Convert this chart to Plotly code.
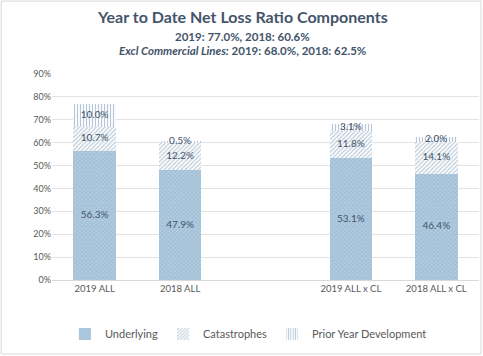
import plotly.graph_objects as go

categories = ["2019 ALL", "2018 ALL", " ", "2019 ALL x CL", "2018 ALL x CL"]
underlying = [56.3, 47.9, None, 53.1, 46.4]
catastrophes = [10.7, 12.2, None, 11.8, 14.1]
prior_year = [10.0, 0.5, None, 3.1, 2.0]
y_ticks = [0, 10, 20, 30, 40, 50, 60, 70, 80, 90]

FONT = "Lato"
LABEL = "#44546A"
GREY = "#595959"

fig = go.Figure()
series = [
    ("Underlying", underlying, dict(shape="x", bgcolor="#b3cde1", fgcolor="#8aaecb", size=3, solidity=0.5)),
    ("Catastrophes", catastrophes, dict(shape="/", bgcolor="#ffffff", fgcolor="#7896b2", size=3, solidity=0.4)),
    ("Prior Year Development", prior_year, dict(shape="|", bgcolor="#ffffff", fgcolor="#6f90b0", size=3, solidity=0.4)),
]
for name, vals, pat in series:
    fig.add_trace(go.Bar(
        x=categories, y=vals, name=name,
        marker=dict(color=pat["bgcolor"], pattern=pat, line=dict(width=0)),
        width=0.5, hoverinfo="skip",
    ))

# labels at segment midpoints
base = [0 if v is not None else None for v in underlying]
for name, vals, pat in series:
    xs, ys, ts = [], [], []
    for i, v in enumerate(vals):
        if v is None:
            continue
        xs.append(categories[i])
        ys.append(base[i] + v / 2)
        ts.append(f"{v:.1f}%")
        base[i] += v
    fig.add_trace(go.Scatter(
        x=xs, y=ys, text=ts, mode="text", showlegend=False, hoverinfo="skip",
        textfont=dict(family=FONT, size=10, color=LABEL),
    ))

fig.update_layout(
    barmode="stack",
    width=483, height=356,
    margin=dict(l=52, r=4, t=74, b=76),
    paper_bgcolor="white", plot_bgcolor="white",
    font=dict(family=FONT, color=GREY),
    showlegend=True,
    legend=dict(orientation="h", x=0.46, xanchor="center", y=-0.262, yanchor="middle",
                font=dict(family=FONT, size=11, color=GREY), traceorder="normal",
                itemwidth=30, tracegroupgap=0),
    xaxis=dict(type="category", categoryarray=categories, showgrid=False,
               showline=True, linecolor="#D9D9D9", linewidth=1, ticks="",
               tickfont=dict(family=FONT, size=9.5, color=GREY)),
    yaxis=dict(range=[0, 90], tickvals=y_ticks, ticktext=[f"{t}%" for t in y_ticks],
               showgrid=True, gridcolor="#E3E3E3", gridwidth=1, zeroline=False,
               tickfont=dict(family=FONT, size=9, color=GREY), ticks="", ticklen=0),
    annotations=[
        dict(text="<b>Year to Date Net Loss Ratio Components</b>", x=0.445, y=1.277,
             xref="paper", yref="paper", showarrow=False, xanchor="center", yanchor="middle",
             font=dict(family=FONT, size=16, color=LABEL)),
        dict(text="<b>2019: 77.0%, 2018: 60.6%</b>", x=0.445, y=1.184,
             xref="paper", yref="paper", showarrow=False, xanchor="center", yanchor="middle",
             font=dict(family=FONT, size=11.5, color=LABEL)),
        dict(text="<b><i>Excl Commercial Lines:</i> 2019: 68.0%, 2018: 62.5%</b>", x=0.445, y=1.112,
             xref="paper", yref="paper", showarrow=False, xanchor="center", yanchor="middle",
             font=dict(family=FONT, size=11.5, color=LABEL)),
    ],
    shapes=[dict(type="rect", xref="paper", yref="paper", x0=-0.119, x1=1.0047, y0=-0.359, y1=1.354,
                 line=dict(color="#D9D9D9", width=1), layer="below")],
)

fig.write_html("out.html", config={"displayModeBar": False},
               post_script="document.body.style.margin='0';")
